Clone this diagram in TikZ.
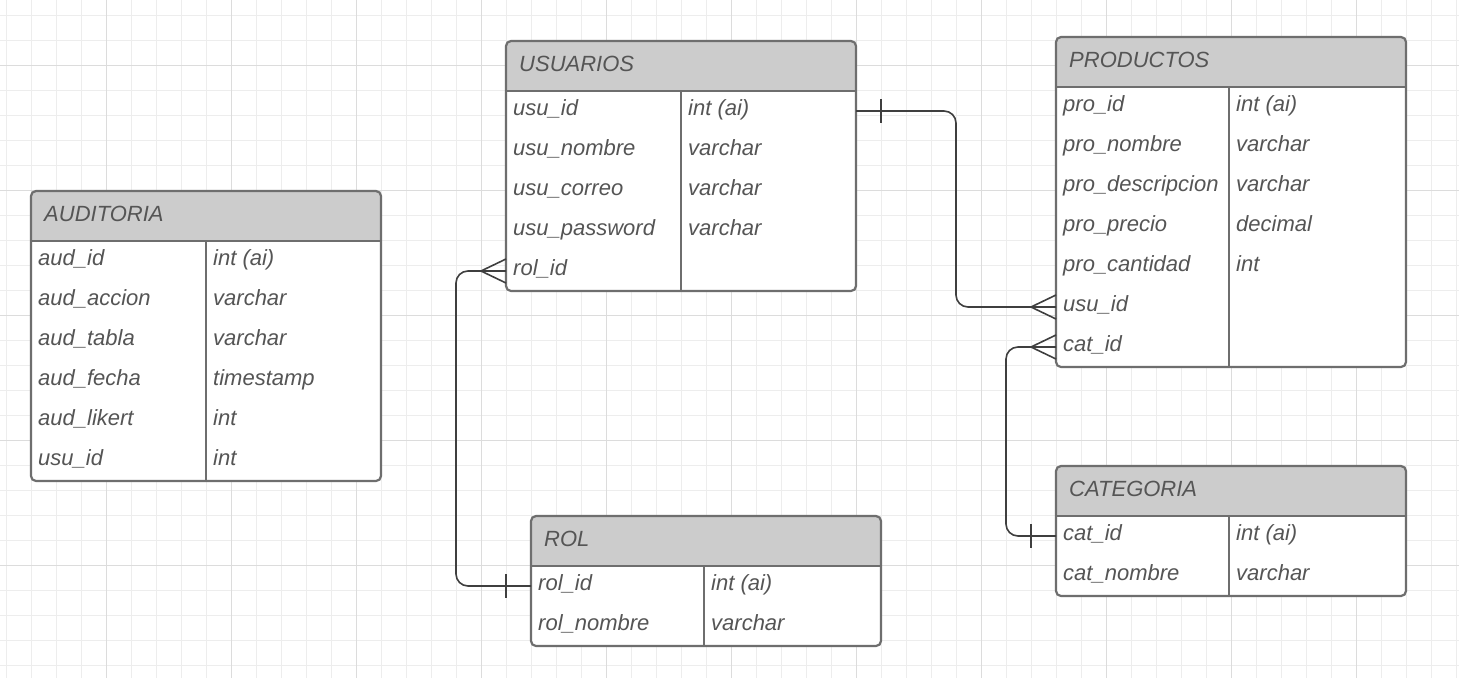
\documentclass[tikz,border=0pt]{standalone}
\usepackage{fontspec}
\setmainfont{Liberation Sans}
\definecolor{gridminor}{HTML}{EDEDED}
\definecolor{gridmajor}{HTML}{DCDCDC}
\definecolor{framegray}{HTML}{6E6E6E}
\definecolor{hdrfill}{HTML}{CCCCCC}
\definecolor{txtgray}{HTML}{555555}
\definecolor{relgray}{HTML}{3F3F3F}

% one entity table: name, left, top, divider offset, title, rows (field/type), row count
\newcommand\erentity[7]{%
  \fill[white, rounded corners=5pt] (#2,#3) rectangle ({#2+350},{#3+50+40*#7});
  \fill[hdrfill, rounded corners=5pt] (#2,#3) rectangle ({#2+350},{#3+50});
  \fill[hdrfill] (#2,{#3+25}) rectangle ({#2+350},{#3+50});
  \node[rowbox, minimum height=50pt] (#1-h) at (#2,#3) {};
  \node[etxt] (#1-title) at ({#2+13},{#3+30}) {#5};
  \foreach[count=\i] \f/\t in {#6} {
    \node[rowbox] (#1-\i) at (#2,{#3+50+40*(\i-1)}) {};
    \node[etxt] (#1-\i-f) at ({#2+7},{#3+74+40*(\i-1)}) {\f};
    \node[etxt] (#1-\i-t) at ({#2+#4+7},{#3+74+40*(\i-1)}) {\t};
  }
  \draw[frame, rounded corners=5pt] (#1-h.north west) rectangle (#1-#7.south east);
  \draw[frame] (#1-h.south west) -- (#1-h.south east);
  \draw[frame] ({#2+#4},{#3+50}) -- ({#2+#4},{#3+50+40*#7});
}
% crow's foot ending at the west side of a row
\newcommand\crowwest[1]{%
  \draw[relthin] ($(#1)+(-25,0)$) -- ($(#1)+(0,-12)$);
  \draw[relthin] ($(#1)+(-25,0)$) -- ($(#1)+(0,12)$);
}
% single bar (one) marker at a given offset from a row side
\newcommand\onebar[2]{%
  \draw[relthin] ($(#1)+(#2,-12)$) -- ($(#1)+(#2,12)$);
}

\usetikzlibrary{calc}

\begin{document}
\begin{tikzpicture}[x=1pt,y=-1pt,
  frame/.style={draw=framegray, line width=2.2pt},
  etxt/.style={anchor=base west, inner sep=0pt, text=txtgray,
    font=\fontsize{22}{26}\selectfont\itshape},
  rowbox/.style={minimum width=350pt, minimum height=40pt, inner sep=0pt,
    outer sep=0pt, anchor=north west},
  rel/.style={draw=relgray, line width=1.6pt, rounded corners=12pt},
  relthin/.style={draw=relgray, line width=1.6pt}]

\useasboundingbox (0,0) rectangle (1459,678);
\fill[white] (0,0) rectangle (1459,678);

% background grid
\foreach \x in {6.7,31.7,...,1459} \draw[gridminor, line width=1pt] (\x,0) -- (\x,678);
\foreach \y in {15,40,...,678} \draw[gridminor, line width=1pt] (0,\y) -- (1459,\y);
\foreach \x in {106.7,231.7,...,1459} \draw[gridmajor, line width=1pt] (\x,0) -- (\x,678);
\foreach \y in {65,190,...,678} \draw[gridmajor, line width=1pt] (0,\y) -- (1459,\y);

% entities
\erentity{auditoria}{31}{191}{175}{AUDITORIA}{%
  aud\_id/int (ai), aud\_accion/varchar, aud\_tabla/varchar,
  aud\_fecha/timestamp, aud\_likert/int, usu\_id/int}{6}
\erentity{usuarios}{506}{41}{175}{USUARIOS}{%
  usu\_id/int (ai), usu\_nombre/varchar, usu\_correo/varchar,
  usu\_password/varchar, rol\_id/{}}{5}
\erentity{productos}{1056}{37}{173}{PRODUCTOS}{%
  pro\_id/int (ai), pro\_nombre/varchar, pro\_descripcion/varchar,
  pro\_precio/decimal, pro\_cantidad/int, usu\_id/{}, cat\_id/{}}{7}
\erentity{categoria}{1056}{466}{173}{CATEGORIA}{%
  cat\_id/int (ai), cat\_nombre/varchar}{2}
\erentity{rol}{531}{516}{173}{ROL}{%
  rol\_id/int (ai), rol\_nombre/varchar}{2}

% relationships
\draw[rel] (usuarios-1.east) -- ++(100,0) |- (productos-6.west);
\onebar{usuarios-1.east}{25}
\crowwest{productos-6.west}

\draw[rel] (productos-7.west) -- ++(-50,0) |- (categoria-1.west);
\crowwest{productos-7.west}
\onebar{categoria-1.west}{-25}

\draw[rel] (usuarios-5.west) -- ++(-50,0) |- (rol-1.west);
\crowwest{usuarios-5.west}
\onebar{rol-1.west}{-25}

\end{tikzpicture}
\end{document}
